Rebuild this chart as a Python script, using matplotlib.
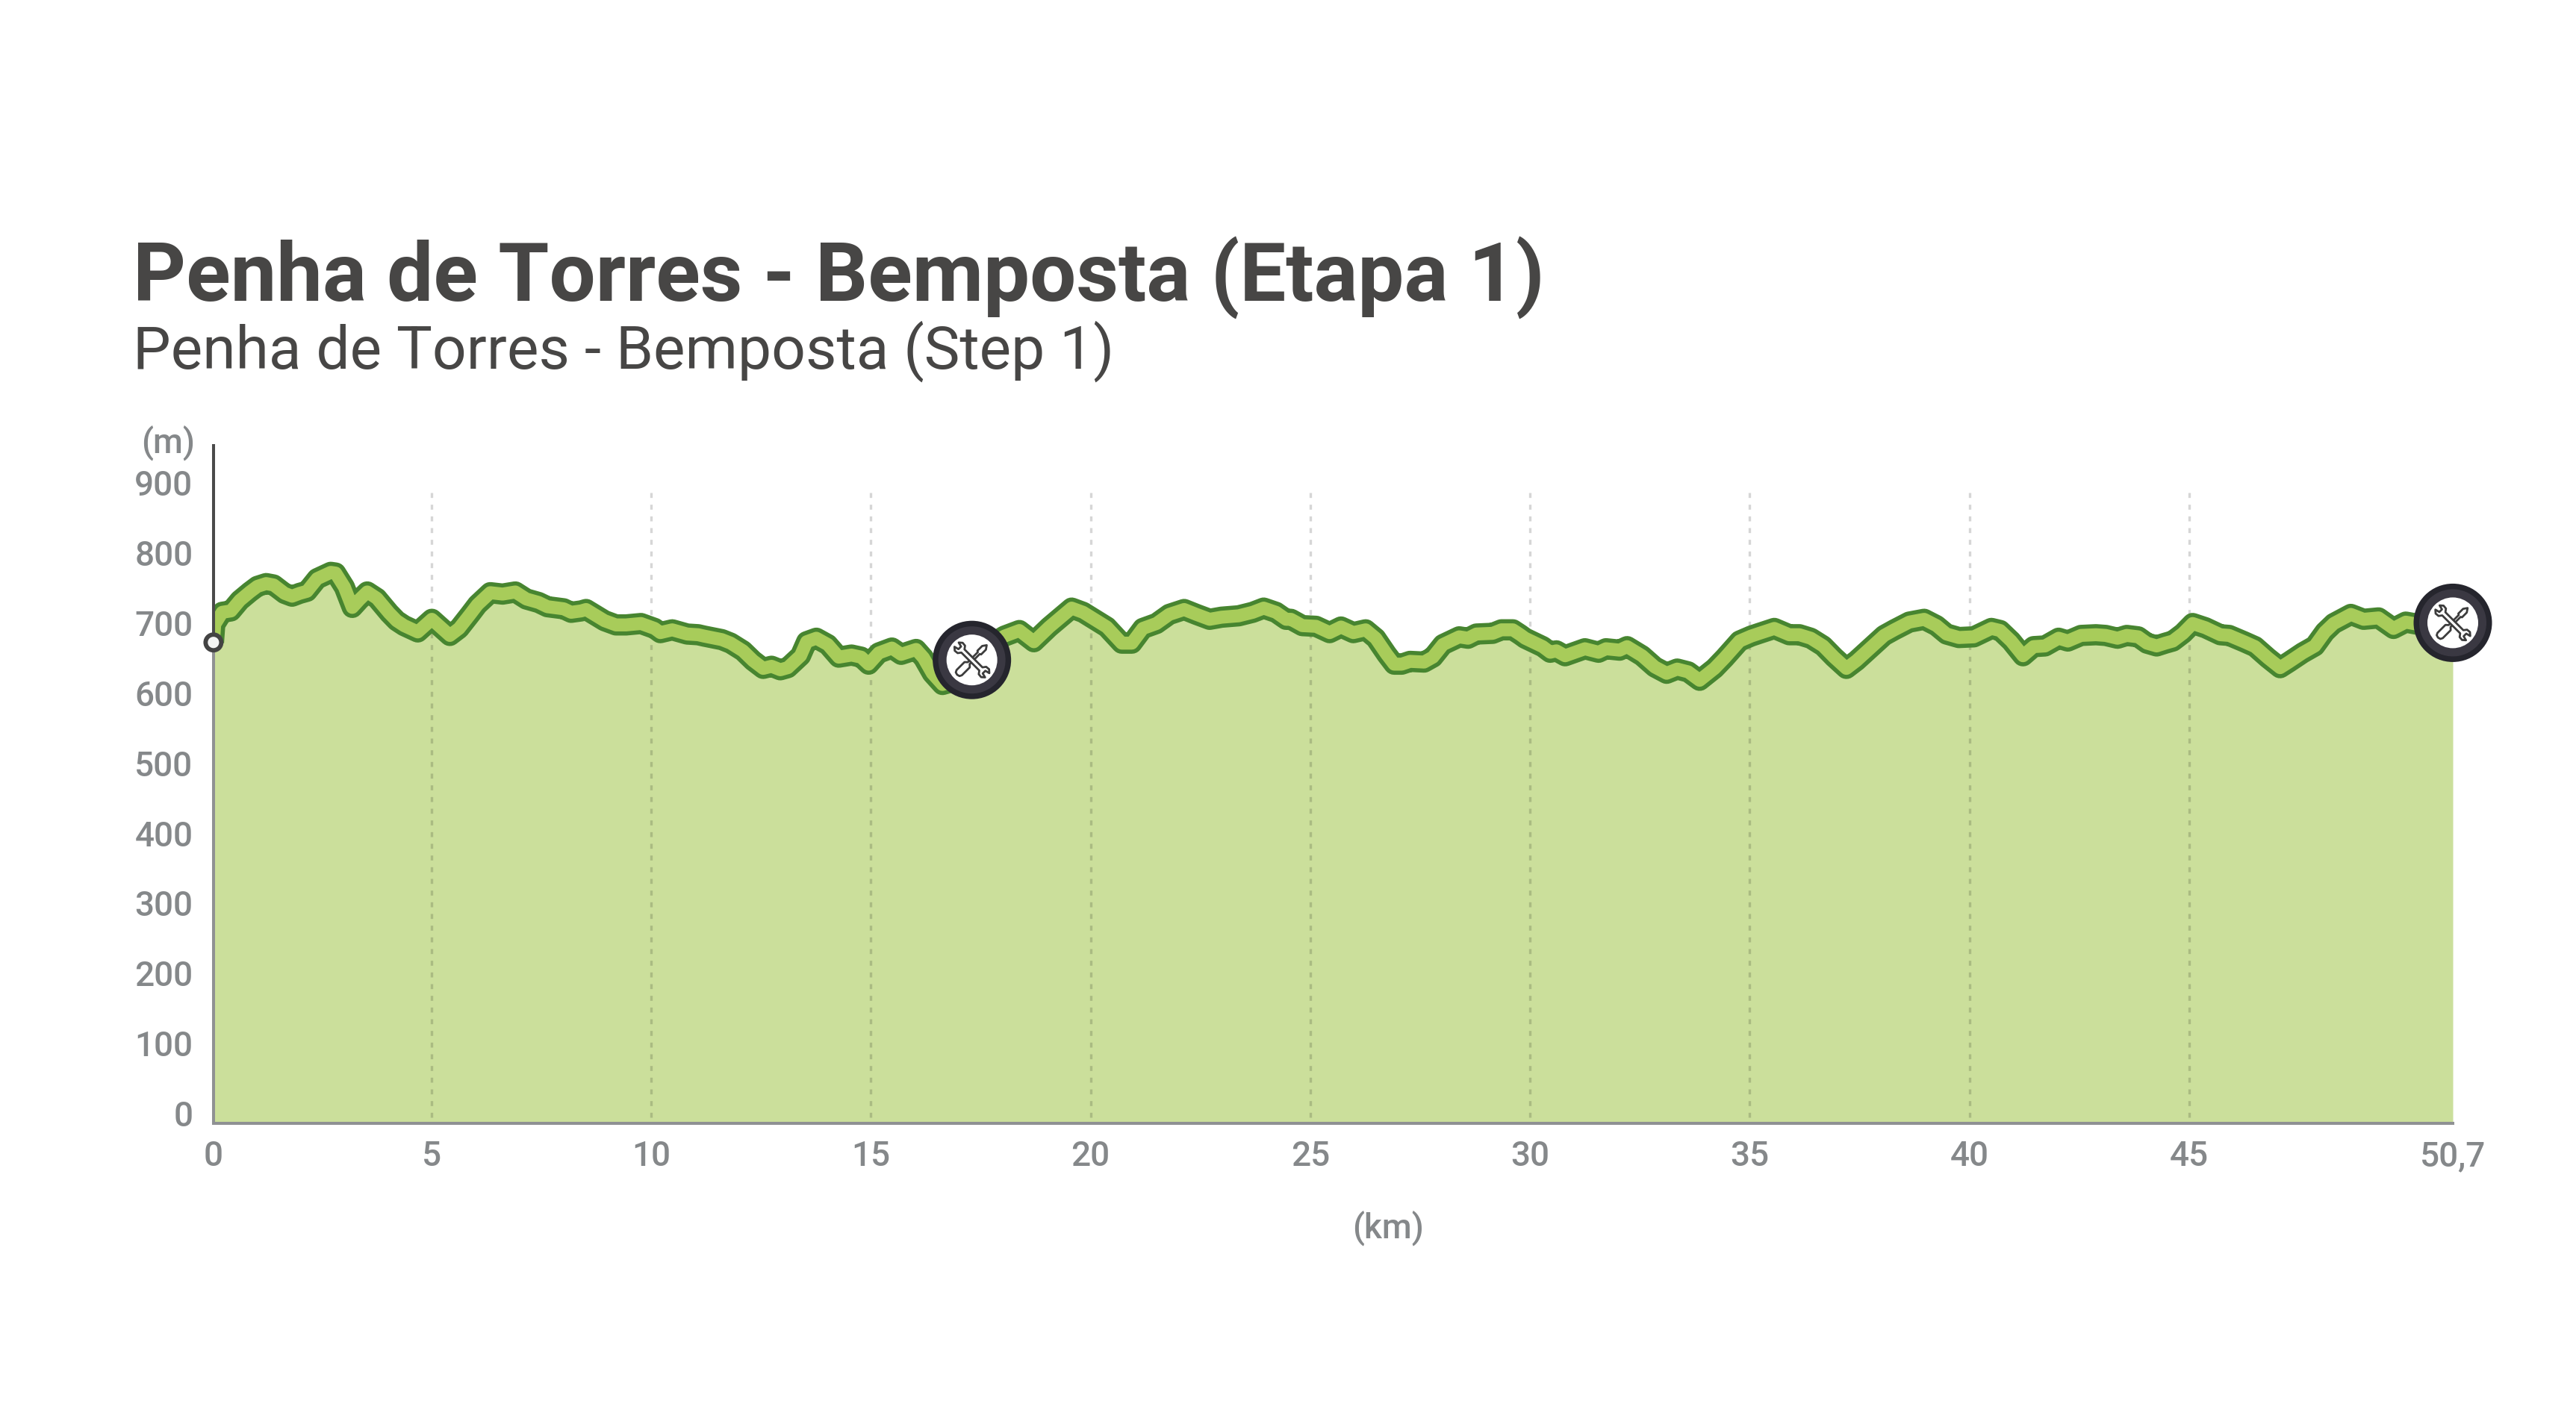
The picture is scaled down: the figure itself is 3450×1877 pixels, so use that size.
import matplotlib
matplotlib.use("Agg")
import matplotlib.pyplot as plt
from matplotlib.patches import Circle, PathPatch
from matplotlib.path import Path
from matplotlib.transforms import Affine2D, ScaledTranslation

# ---------- data ----------
TITLE = "Penha de Torres - Bemposta (Etapa 1)"
SUBTITLE = "Penha de Torres - Bemposta (Step 1)"
km = [0.04,0.07,0.24,0.44,0.64,0.87,1.04,1.24,1.41,1.66,1.83,2.0,2.17,2.40,2.71,2.82,3.02,3.20,3.36,3.54,3.76,4.04,4.21,4.38,4.69,5.01,5.42,5.63,5.88,6.05,6.34,6.62,6.91,7.16,7.44,7.64,8.01,8.18,
      8.41,8.52,8.94,9.2,9.43,9.77,10.08,10.21,10.48,10.82,11.07,11.21,11.61,11.81,12.09,12.32,12.55,12.74,12.94,13.11,13.40,13.54,13.76,14.02,14.27,14.56,14.78,14.95,15.18,15.48,15.69,16.03,16.2,16.4,16.63,16.85,17.05,17.5,
      18.04,18.38,18.71,19.06,19.57,19.83,20.37,20.71,20.94,21.19,21.5,21.79,22.13,22.41,22.71,22.98,23.37,23.69,23.94,24.22,24.45,24.56,24.82,25.13,25.44,25.70,
      25.98,26.26,26.49,26.74,26.91,27.08,27.27,27.59,27.79,28.02,28.39,28.59,28.78,29.15,29.35,29.61,29.78,29.89,30.29,30.46,30.6,30.8,31.25,31.56,31.73,32.04,32.21,32.55,32.84,33.11,33.35,33.6,33.86,34.2,34.43,
      34.77,35.03,35.22,35.56,35.9,36.13,36.39,36.67,36.92,37.2,37.43,37.78,38.06,38.29,38.63,38.97,39.25,39.48,39.76,40.1,40.5,40.7,40.95,41.22,41.46,41.72,42.03,42.24,42.54,42.88,43.1,
      43.37,43.58,43.84,44.04,44.26,44.46,44.63,44.86,45.08,45.37,45.71,45.91,46.25,46.5,46.79,47.07,47.27,47.58,47.86,48.09,48.29,48.68,48.97,49.31,49.65,49.93,50.19,50.6,51.0]
elevation = [672,698,715,717,732,744,752,756,754,742,738,742,745,763,772,771,751,722,733,744,735,714,703,696,687,705,682,692,712,726,743,741,744,734,729,723,720,715,
      717,719,703,697,697,699,692,686,690,684,683,681,676,671,660,646,635,638,633,636,653,673,678,669,651,654,651,641,657,664,655,662,650,628,612,616,630,660,
      681,689,673,694,721,715,694,671,671,692,699,712,719,712,705,708,710,715,721,715,705,705,696,695,686,694,
      686,690,678,655,641,641,645,644,651,669,680,678,684,685,690,690,683,678,666,658,660,653,663,658,663,661,666,653,637,628,634,630,618,635,650,
      674,681,685,692,683,683,678,667,651,635,646,666,682,690,701,705,696,684,679,680,692,689,674,653,666,667,678,674,682,683,682,
      678,682,680,671,667,671,674,685,699,693,683,682,673,666,650,636,644,657,667,687,699,712,705,707,692,701,698,695,700]
x_ticks = [0.04,5,10,15,20,25,30,35,40,45,51]
x_tick_labels = ["0","5","10","15","20","25","30","35","40","45","50,7"]
y_ticks = [0,100,200,300,400,500,600,700,800,900]
grid_km = [5,10,15,20,25,30,35,40,45]
grid_top = 886
service_km = [17.3,51.0]
service_elev = [647,700]
start_km, start_elev = 0.04, 672

# ---------- style ----------
W, H = 3450, 1877
TEXT = "#474645"; TICK = "#85888a"; AXIS = "#8f9193"; AXDARK = "#4a4a4a"
FILL = "#cbdf9b"; BAND = "#a8cc5a"; EDGE = "#478530"
FONT = "Roboto"
plt.rcParams["font.family"] = [FONT, "DejaVu Sans"]

fig = plt.figure(figsize=(W/100, H/100), dpi=100, facecolor="white")
ax = fig.add_axes([283.5/W, 1-1505/H, (3285-283.5)/W, (1505-595)/H])
ax.set_xlim(0, 51.0)
ax.set_ylim(-14.2, 955)
ax.patch.set_alpha(0)
for s in ("top","right","left"):
    ax.spines[s].set_visible(False)
ax.spines["bottom"].set_color(AXIS)
ax.spines["bottom"].set_linewidth(2.9)
ax.spines["bottom"].set_bounds(start_km, 51.0)

ax.fill_between(km, elevation, -14.2, color=FILL, lw=0, zorder=1)
for g in grid_km:
    ax.plot([g,g],[grid_top,-14.2], color="black", alpha=0.16, lw=2.4,
            ls=(0,(2.0,2.7)), zorder=2)
ax.plot(km, elevation, color=EDGE, lw=20.5, solid_joinstyle="round", solid_capstyle="butt", zorder=3)
ax.plot(km, elevation, color=BAND, lw=12.5, solid_joinstyle="round", solid_capstyle="butt", zorder=4)

# y axis line: dark above the start marker, grey below it
ax.plot([start_km]*2,[start_elev,955], color=AXDARK, lw=2.9, solid_capstyle="butt", clip_on=False, zorder=5)
ax.plot([start_km]*2,[-14.2,start_elev], color=AXIS, lw=2.9, solid_capstyle="butt", clip_on=False, zorder=2.5)

def at(x, y):
    return ScaledTranslation(x, y, ax.transData)

# start marker
ax.add_patch(Circle((0,0), 10.5, transform=at(start_km,start_elev), fc="#f4f4f4", ec="#434343", lw=4.2, clip_on=False, zorder=6))

# service wheel icon
def poly(pts, angle):
    verts = pts + [pts[0]]
    codes = [Path.MOVETO] + [Path.LINETO]*(len(pts)-1) + [Path.CLOSEPOLY]
    return Path(verts, codes).transformed(Affine2D().rotate_deg(angle))
wrench = [(-17,3),(-20,7),(-25,7.5),(-29,4),(-23,2.5),(-23,-2.5),(-29,-4),(-25,-7.5),(-20,-7),(-17,-3),
          (17,-3),(20,-7),(25,-7.5),(29,-4),(23,-2.5),(23,2.5),(29,4),(25,7.5),(20,7),(17,3)]
driver = [(-28,0),(-27,3.5),(-24,5),(-9,5),(-6,1.8),(13,1.8),(14,3.5),(23,3.5),(28,0),(23,-3.5),(14,-3.5),(13,-1.8),(-6,-1.8),(-9,-5),(-24,-5),(-27,-3.5)]
for x, y in zip(service_km, service_elev):
    t = at(x, y)
    ax.add_patch(Circle((0,0), 52.5, transform=t, fc="#25252d", ec="none", clip_on=False, zorder=7))
    ax.add_patch(Circle((0,0), 45, transform=t, fc="#3a3842", ec="none", clip_on=False, zorder=7.1))
    ax.add_patch(Circle((0,0), 34, transform=t, fc="white", ec="none", clip_on=False, zorder=7.2))
    ax.add_patch(PathPatch(poly(driver, 45), transform=t, fc="white", ec="#3c3c3c", lw=2.0, joinstyle="round", clip_on=False, zorder=7.3))
    ax.add_patch(PathPatch(poly(wrench, -45), transform=t, fc="white", ec="#3c3c3c", lw=2.0, joinstyle="round", clip_on=False, zorder=7.4))

# ticks
ax.set_xticks(x_ticks, x_tick_labels)
ax.set_yticks(y_ticks)
ax.tick_params(axis="x", length=0, pad=16, labelsize=33, labelcolor=TICK)
ax.tick_params(axis="y", length=0, pad=18, labelsize=33, labelcolor=TICK)
for lab in ax.get_xticklabels()+ax.get_yticklabels():
    lab.set_fontweight("medium")

def ftext(px, py, s, **kw):
    return fig.text(px/W, 1-py/H, s, **kw)

ftext(178, 402.7, TITLE, fontsize=79.3, fontweight="bold", color=TEXT, va="baseline", ha="left")
ftext(178, 493.3, SUBTITLE, fontsize=57.8, color=TEXT, va="baseline", ha="left")
ftext(261, 593, "(m)", fontsize=33, color=TICK, fontweight="medium", va="center", ha="right")
ftext(1859, 1645, "(km)", fontsize=33, color=TICK, fontweight="medium", va="center", ha="center")

fig.savefig("out.png", dpi=100, facecolor="white")
